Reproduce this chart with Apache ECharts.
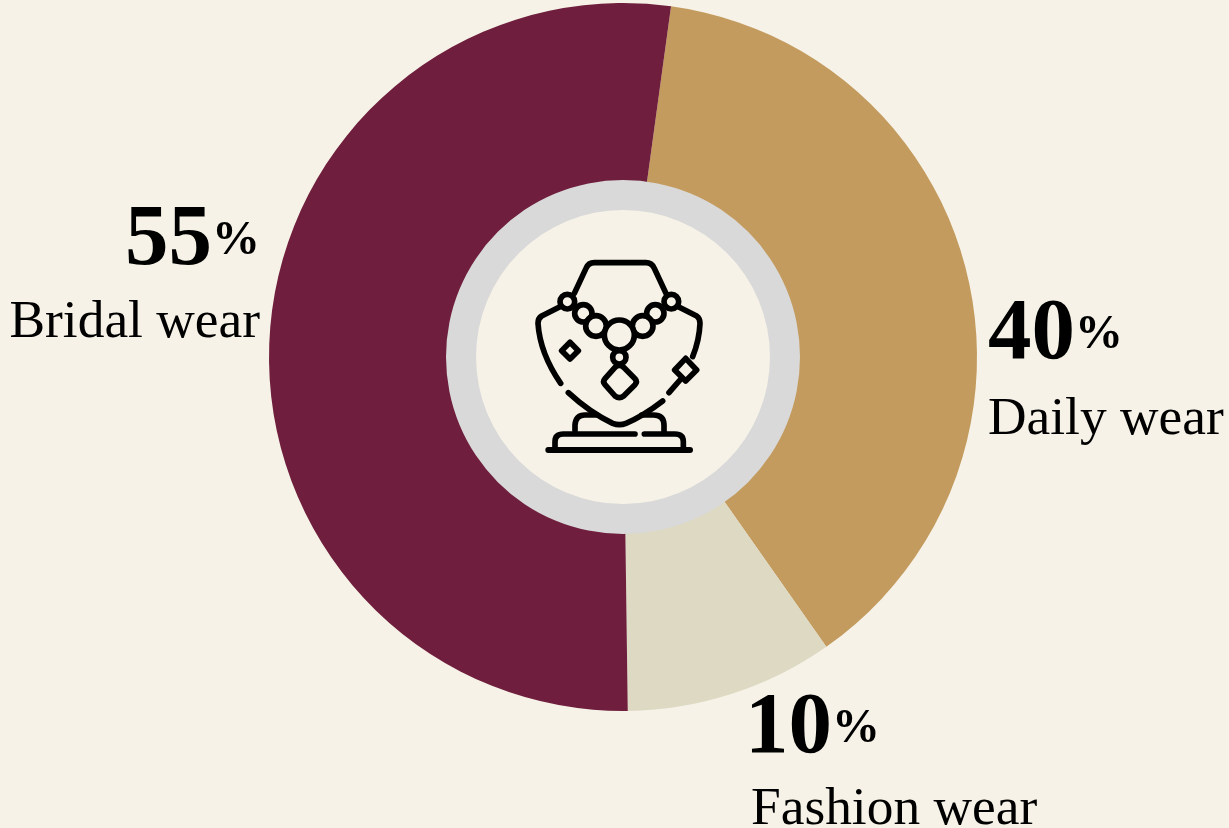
<!DOCTYPE html>
<html>
<head>
<meta charset="utf-8">
<title>Jewellery demand by occasion</title>
<style>
  html, body { margin: 0; padding: 0; background: #F6F2E7; }
  #chart { width: 1229px; height: 828px; }
</style>
<script src="https://cdn.jsdelivr.net/npm/echarts@6/dist/echarts.min.js"></script>
</head>
<body>
<div id="chart"></div>
<script>
// Share of jewellery demand by occasion
const categories = ['Daily wear', 'Fashion wear', 'Bridal wear'];
const shares = [40, 10, 55];
const sliceColors = ['#C49B5E', '#DDD9C3', '#6F1F3D'];

const serif = '"Liberation Serif", "Times New Roman", serif';
const CX = 623, CY = 357;

// Where each caption block sits, in slice order
const captionSpots = [
  { x: 988, y: 294, align: 'left', nameTag: 'd' },
  { x: 745, y: 688, align: 'left', nameTag: 'f' },
  { x: 260, y: 200, align: 'right', nameTag: 'n' }
];

// Necklace-on-a-bust emblem, drawn on a 3x grid and scaled down
const INK = '#000000';
const line = (d, w) => ({
  type: 'path',
  shape: { pathData: d },
  style: { fill: 'none', stroke: INK, lineWidth: w || 17, lineCap: 'round', lineJoin: 'round' }
});
const bead = (cx, cy, r) => ({
  type: 'circle',
  shape: { cx, cy, r },
  style: { fill: '#F6F2E7', stroke: INK, lineWidth: 17 }
});
const emblem = () => [
  line('M193 160 L228 85 Q235 68 253 68 L408 68 Q425 68 433 85 L468 160'),
  line('M150 200 L95 228 Q84 235 84 250 Q90 340 152 430'),
  line('M175 458 Q240 518 308 550 Q328 558 348 550 Q400 528 458 483'),
  line('M505 200 L560 228 Q570 235 570 250 Q568 300 548 350'),
  line('M510 420 L477 458'),
  line('M195 572 L195 555 Q197 525 225 525 L260 525'),
  line('M395 525 L430 525 Q462 525 462 555 L462 575'),
  line('M135 625 L135 605 Q135 582 160 582 L375 582'),
  line('M403 582 L495 582 Q520 582 520 605 L520 625'),
  line('M115 630 L540 630', 18),
  bead(172, 185, 22),
  bead(220, 220, 26),
  bead(258, 258, 31),
  bead(436, 220, 26),
  bead(398, 258, 31),
  bead(484, 185, 22),
  bead(328, 352, 20),
  bead(328, 285, 45),
  line('M315 382 Q328 370 341 382 L375 416 Q383 425 375 434 L341 468 Q328 478 315 468 L285 434 Q277 425 285 416 Z'),
  line('M180 307 L205 332 L180 357 L155 332 Z'),
  line('M527 355 L560 390 L527 423 L494 390 Z')
];

const chart = echarts.init(document.getElementById('chart'), null, { renderer: 'canvas' });

chart.setOption({
  backgroundColor: '#F6F2E7',
  animation: false,
  series: [
    {
      type: 'pie',
      center: [CX, CY],
      radius: [170, 354],
      startAngle: 82.2,
      clockwise: true,
      silent: true,
      data: categories.map((name, i) => ({
        name,
        value: shares[i],
        itemStyle: { color: sliceColors[i] }
      })),
      label: {
        show: true,
        position: 'outside',
        color: '#000000',
        fontFamily: serif,
        overflow: 'none',
        formatter: p => `{v|${p.value}}{u|%}\n{${captionSpots[p.dataIndex].nameTag}|${p.name}}`,
        rich: {
          v: { fontFamily: serif, fontSize: 87, fontWeight: 'bold', lineHeight: 84, color: '#000000' },
          u: { fontFamily: serif, fontSize: 48, fontWeight: 'bold', lineHeight: 84, color: '#000000' },
          n: { fontFamily: serif, fontSize: 53.4, lineHeight: 78, color: '#000000' },
          d: { fontFamily: serif, fontSize: 53.4, lineHeight: 84, color: '#000000' },
          f: { fontFamily: serif, fontSize: 53.4, lineHeight: 76, color: '#000000', padding: [0, 0, 0, 6] }
        }
      },
      labelLine: { show: false },
      labelLayout: p => ({
        x: captionSpots[p.dataIndex].x,
        y: captionSpots[p.dataIndex].y,
        align: captionSpots[p.dataIndex].align,
        verticalAlign: 'top'
      })
    },
    {
      type: 'custom',
      coordinateSystem: 'none',
      silent: true,
      z: 12,
      data: [0],
      renderItem: () => ({
        type: 'group',
        x: 510,
        y: 240,
        scaleX: 1 / 3,
        scaleY: 1 / 3,
        children: emblem()
      })
    }
  ],
  graphic: [
    {
      type: 'ring',
      shape: { cx: CX, cy: CY, r: 177, r0: 147 },
      style: { fill: '#D9D9D9' },
      silent: true,
      z: 10
    }
  ]
});
</script>
</body>
</html>
